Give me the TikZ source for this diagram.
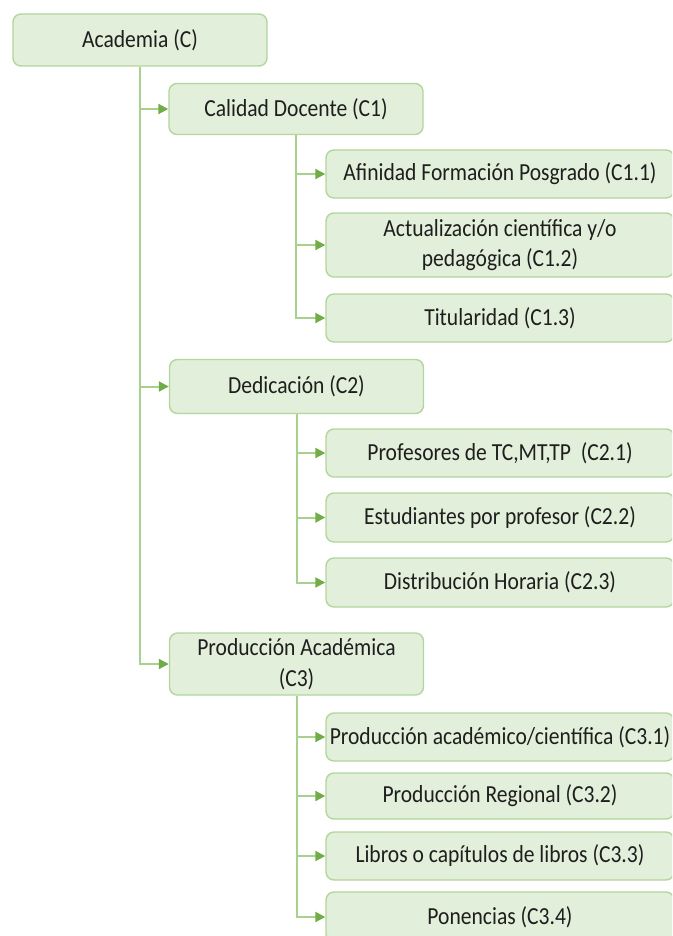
\documentclass[tikz,border=0pt]{standalone}
\usepackage{fontspec}
\usetikzlibrary{arrows.meta}
\newfontfamily\boxfont[FakeStretch=0.88]{Carlito}
\definecolor{boxfill}{HTML}{E2EFDA}
\definecolor{boxline}{HTML}{B2D69B}
\definecolor{linkline}{HTML}{A9D18E}
\definecolor{tipgreen}{HTML}{70AD47}
\definecolor{labeltext}{HTML}{1E1E1E}
\tikzset{
  tbox/.style={draw=boxline, fill=boxfill, line width=1.4pt, rounded corners=8pt,
    align=center, inner sep=0pt, text=labeltext,
    font=\boxfont\fontsize{24.5}{30.5}\selectfont},
  topbox/.style={tbox, minimum width=254pt},
  leafbox/.style={tbox, minimum width=348pt},
  link/.style={draw=linkline, line width=2pt,
    -{Triangle[length=10pt,width=10pt,fill=tipgreen,color=tipgreen]}}
}
\begin{document}
\begin{tikzpicture}[x=1pt,y=-1pt]
\useasboundingbox (0,0) rectangle (672,936);
\clip (0,0) rectangle (672,936);

% root
\node[topbox, minimum height=52pt] (A) at (140,40) {Academia (C)};

% first level
\node[topbox, minimum height=51pt] (C1) at (296,109) {Calidad Docente (C1)};
\node[topbox, minimum height=54pt] (C2) at (296.5,386.5) {Dedicación (C2)};
\node[topbox, minimum height=62pt] (C3) at (296.5,664) {Producción Académica\\(C3)};

% second level under C1
\node[leafbox, minimum height=48pt] (C11) at (500,174) {Afinidad Formación Posgrado (C1.1)};
\node[leafbox, minimum height=64pt] (C12) at (500,245) {Actualización científica y/o\\pedagógica (C1.2)};
\node[leafbox, minimum height=48pt] (C13) at (500,318) {Titularidad (C1.3)};

% second level under C2
\node[leafbox, minimum height=48pt] (C21) at (500,453) {Profesores de TC,MT,TP\ \ (C2.1)};
\node[leafbox, minimum height=49pt] (C22) at (500,517.5) {Estudiantes por profesor (C2.2)};
\node[leafbox, minimum height=49pt] (C23) at (500,582.5) {Distribución Horaria (C2.3)};

% second level under C3
\node[leafbox, minimum height=48pt] (C31) at (500,737) {Producción académico/científica (C3.1)};
\node[leafbox, minimum height=46pt] (C32) at (500,796) {Producción Regional (C3.2)};
\node[leafbox, minimum height=48pt] (C33) at (500,856) {Libros o capítulos de libros (C3.3)};
\node[leafbox, minimum height=50pt] (C34) at (500,917) {Ponencias (C3.4)};

% connectors
\foreach \c in {C1,C2,C3} \draw[link] (A.south) |- (\c.west);
\foreach \c in {C11,C12,C13} \draw[link] (C1.south) |- (\c.west);
\foreach \c in {C21,C22,C23} \draw[link] (C2.south) |- (\c.west);
\foreach \c in {C31,C32,C33,C34} \draw[link] (C3.south) |- (\c.west);
\end{tikzpicture}
\end{document}
